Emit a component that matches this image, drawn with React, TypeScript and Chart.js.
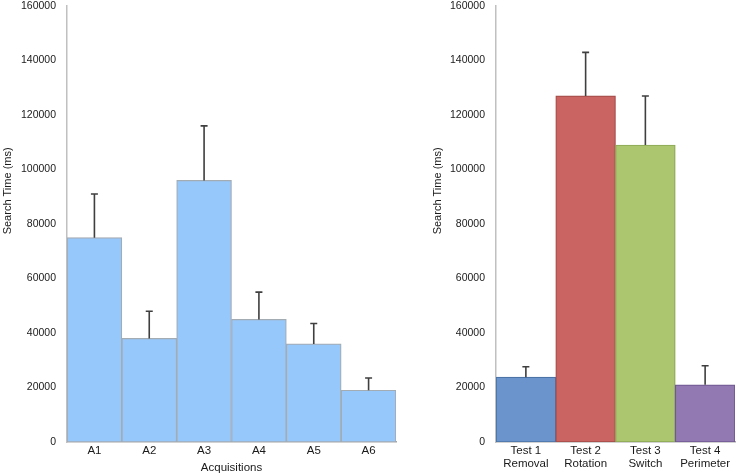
import { useEffect, useRef } from "react";
import { Chart, registerables } from "chart.js";

Chart.register(...registerables);

const acqLabels = ["A1", "A2", "A3", "A4", "A5", "A6"];
const acqMeans = [75000, 38000, 96000, 45000, 36000, 19000];
const acqErrors = [16000, 10000, 20000, 10000, 7500, 4500];

const testLabels = [
  ["Test 1", "Removal"],
  ["Test 2", "Rotation"],
  ["Test 3", "Switch"],
  ["Test 4", "Perimeter"]
];
const testMeans = [23800, 127000, 109000, 21000];
const testErrors = [3800, 16000, 18000, 7000];

const yTicks = [0, 20000, 40000, 60000, 80000, 100000, 120000, 140000, 160000];

const FONT = "'Liberation Sans', Arial, sans-serif";

// upward-only error bars with a small cap
const errorBars = {
  id: "errorBars",
  afterDatasetsDraw(chart: any, _args: any, opts: any) {
    const { ctx } = chart;
    const yScale = chart.scales.y;
    const meta = chart.getDatasetMeta(0);
    const values = chart.data.datasets[0].data as number[];
    ctx.save();
    ctx.strokeStyle = "#3f3f3f";
    ctx.lineWidth = 1.6;
    meta.data.forEach((bar: any, i: number) => {
      const top = yScale.getPixelForValue(values[i] + opts.errors[i]);
      const base = yScale.getPixelForValue(values[i]);
      ctx.beginPath();
      ctx.moveTo(bar.x, base);
      ctx.lineTo(bar.x, top);
      ctx.moveTo(bar.x - 3.5, top);
      ctx.lineTo(bar.x + 3.5, top);
      ctx.stroke();
    });
    ctx.restore();
  }
};

// axis titles placed like the original figure
const axisTitles = {
  id: "axisTitles",
  afterDraw(chart: any, _args: any, opts: any) {
    const { ctx, chartArea } = chart;
    ctx.save();
    ctx.fillStyle = "#1a1a1a";
    ctx.font = `11px ${FONT}`;
    ctx.textAlign = "center";
    ctx.textBaseline = "middle";
    const h = chartArea.bottom - chartArea.top;
    ctx.translate(chartArea.left - opts.yOffset, chartArea.top + h * 0.424);
    ctx.rotate(-Math.PI / 2);
    ctx.fillText("Search Time (ms)", 0, 0);
    ctx.restore();
    if (opts.xTitle) {
      ctx.save();
      ctx.fillStyle = "#1a1a1a";
      ctx.font = `11.5px ${FONT}`;
      ctx.textAlign = "center";
      ctx.textBaseline = "middle";
      ctx.fillText(opts.xTitle, (chartArea.left + chartArea.right) / 2, chartArea.bottom + 26);
      ctx.restore();
    }
  }
};

type PanelProps = {
  labels: any[];
  values: number[];
  errors: number[];
  fill: string | string[];
  border: string | string[];
  yWidth: number;
  yOffset: number;
  xTitle?: string;
  left: number;
  width: number;
  padRight: number;
};

const BarPanel = (p: PanelProps) => {
  const canvasRef = useRef<HTMLCanvasElement | null>(null);
  const chartRef = useRef<Chart | null>(null);

  useEffect(() => {
    if (!canvasRef.current) return;
    const ctx = canvasRef.current.getContext("2d");
    if (!ctx) return;

    chartRef.current = new Chart(ctx, {
      type: "bar",
      data: {
        labels: p.labels,
        datasets: [
          {
            data: p.values,
            backgroundColor: p.fill,
            borderColor: p.border,
            borderWidth: 1.2,
            borderSkipped: false,
            barPercentage: 1,
            categoryPercentage: 1
          }
        ]
      },
      plugins: [errorBars, axisTitles],
      options: {
        responsive: true,
        maintainAspectRatio: false,
        animation: false,
        layout: { padding: { top: 6, right: p.padRight, left: 0, bottom: 0 } },
        plugins: {
          legend: { display: false },
          tooltip: { enabled: false },
          errorBars: { errors: p.errors },
          axisTitles: { yOffset: p.yOffset, xTitle: p.xTitle }
        } as any,
        scales: {
          x: {
            grid: { display: false, drawTicks: false },
            border: { display: true, color: "#a6a6a6", width: 1.5 },
            ticks: {
              color: "#1a1a1a",
              font: { size: 11.5, family: FONT, lineHeight: 1.1 },
              padding: 3,
              maxRotation: 0
            },
            afterFit: (scale: any) => {
              scale.height = 33;
              scale.paddingLeft = 0;
              scale.paddingRight = 0;
            }
          },
          y: {
            min: 0,
            max: 160000,
            grid: { display: false, drawTicks: false },
            border: { display: true, color: "#c0c0c0", width: 1.5 },
            afterBuildTicks: (scale: any) => {
              scale.ticks = yTicks.map((v) => ({ value: v }));
            },
            ticks: {
              color: "#1a1a1a",
              font: { size: 10.5, family: FONT },
              padding: 11,
              callback: (v: any) => String(v)
            },
            afterFit: (scale: any) => {
              scale.width = p.yWidth;
              scale.paddingTop = 0;
              scale.paddingBottom = 0;
            }
          }
        }
      }
    });

    return () => {
      chartRef.current?.destroy();
    };
  }, []);

  return (
    <div style={{ position: "absolute", left: p.left, top: 0, width: p.width, height: 475 }}>
      <canvas ref={canvasRef} />
    </div>
  );
};

const App = () => {
  return (
    <div style={{ position: "fixed", left: 0, top: 0, width: 737, height: 475, background: "#fff" }}>
      <BarPanel
        labels={acqLabels}
        values={acqMeans}
        errors={acqErrors}
        fill="#97c8fc"
        border="#a3abb3"
        yWidth={67}
        yOffset={59}
        xTitle="Acquisitions"
        left={0}
        width={400}
        padRight={4}
      />
      <BarPanel
        labels={testLabels}
        values={testMeans}
        errors={testErrors}
        fill={["#6a94cb", "#c96462", "#abc66f", "#9279b1"]}
        border={["#4b73a6", "#a34b49", "#8aa653", "#6f5893"]}
        yWidth={76}
        yOffset={58}
        left={420}
        width={317}
        padRight={2}
      />
    </div>
  );
};

export default App;
